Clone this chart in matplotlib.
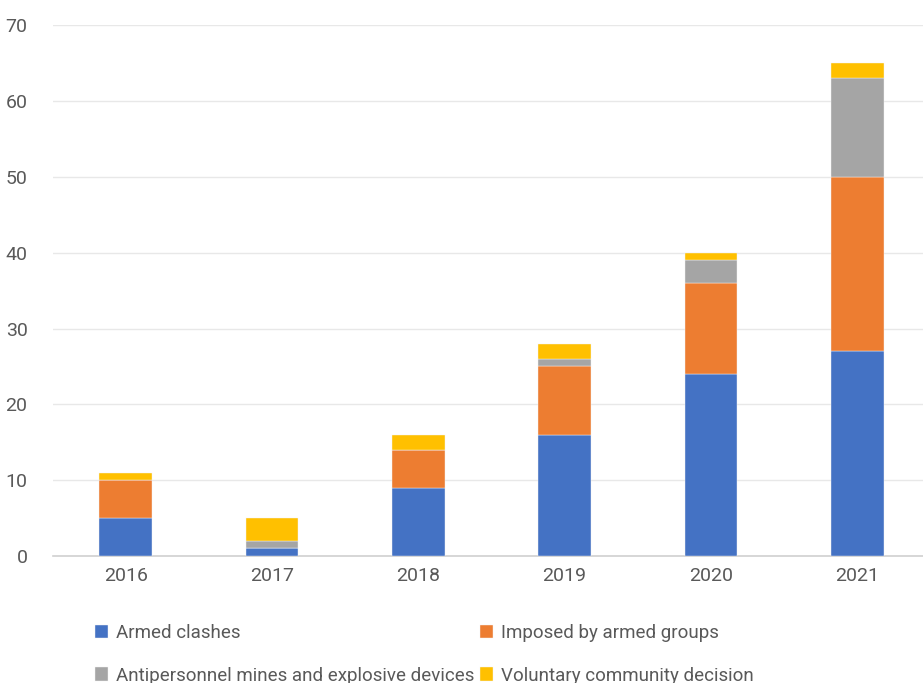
import matplotlib
matplotlib.use('Agg')
import matplotlib.pyplot as plt
import numpy as np

plt.rcParams['font.family'] = ['Roboto', 'DejaVu Sans']

# Data
years = ['2016', '2017', '2018', '2019', '2020', '2021']
armed_clashes = [5, 1, 9, 16, 24, 27]
imposed_by_groups = [5, 0, 5, 9, 12, 23]
mines_explosives = [0, 1, 0, 1, 3, 13]
voluntary_decision = [1, 3, 2, 2, 1, 2]

series = [
    ('Armed clashes', armed_clashes, '#4472C4'),
    ('Imposed by armed groups', imposed_by_groups, '#ED7D31'),
    ('Antipersonnel mines and explosive devices', mines_explosives, '#A5A5A5'),
    ('Voluntary community decision', voluntary_decision, '#FFC000'),
]

fig = plt.figure(figsize=(9.23, 6.83), dpi=100)
ax = fig.add_axes([0.057, 0.186, 0.943, 0.777])

x = np.arange(len(years))
bottom = np.zeros(len(years))
for name, vals, color in series:
    ax.bar(x, vals, 0.36, bottom=bottom, color=color, label=name,
           edgecolor='#f4f4f4', linewidth=0.3, zorder=3)
    bottom += np.array(vals)

ax.set_ylim(0, 70)
ax.set_xlim(-0.5, 5.45)
ax.set_yticks(range(0, 71, 10))
ax.set_xticks(x)
ax.set_xticklabels(years)
ax.grid(axis='y', color='#e8e8e8', linewidth=1, zorder=0)
for s in ['top', 'right', 'left']:
    ax.spines[s].set_visible(False)
ax.spines['bottom'].set_color('#d0d0d0')
ax.spines['bottom'].set_linewidth(1.2)
ax.tick_params(axis='both', length=0, labelsize=14, colors='#595959', pad=8)
ax.tick_params(axis='y', pad=18)

# legend fills row by row in the original, so reorder for column-major layout
handles, labels = ax.get_legend_handles_labels()
order = [0, 2, 1, 3]
fig.legend([handles[i] for i in order], [labels[i] for i in order],
           loc='lower left', bbox_to_anchor=(0.085, -0.027), ncol=2,
           frameon=False, fontsize=13.5, handlelength=0.7, handleheight=0.7,
           handletextpad=0.4, columnspacing=0.3, labelspacing=1.3,
           labelcolor='#595959')

fig.savefig('out.png', dpi=100)
